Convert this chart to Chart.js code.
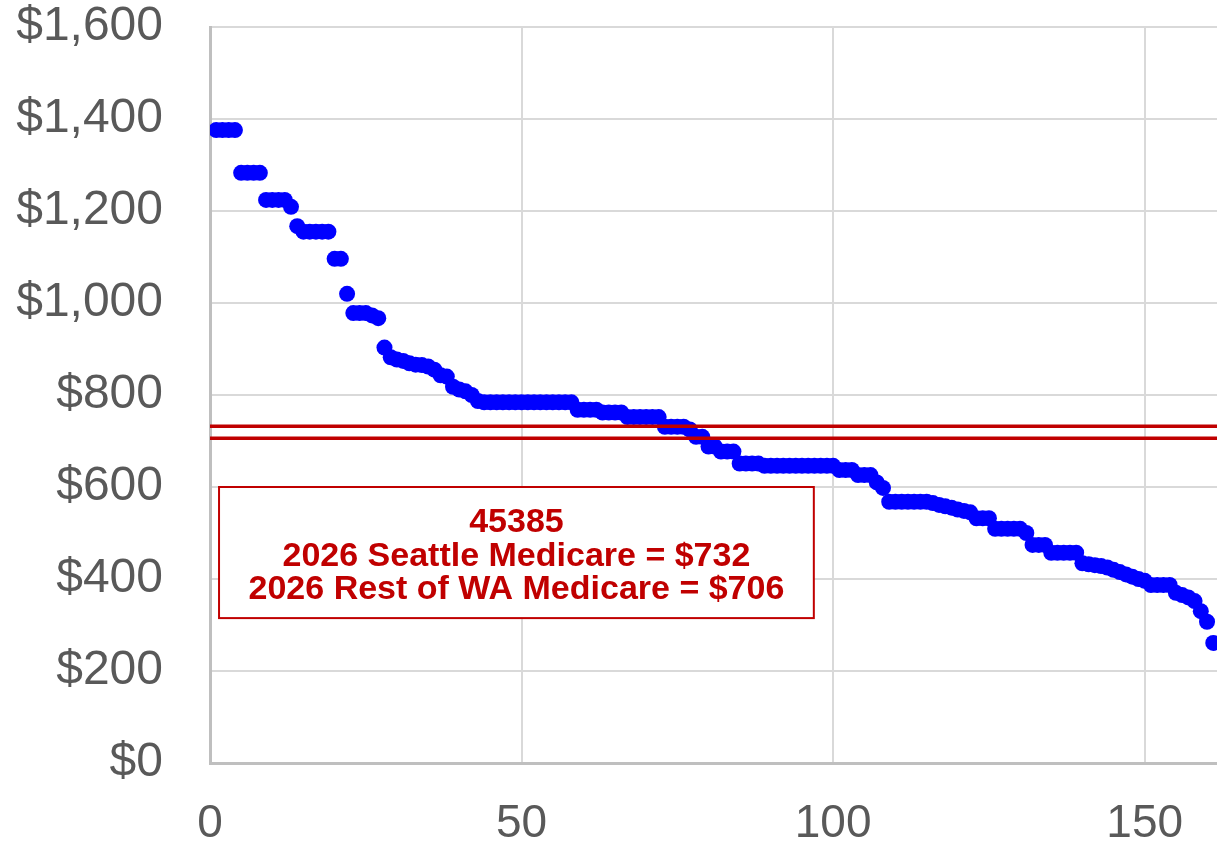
<!DOCTYPE html>
<html>
<head>
<meta charset="utf-8">
<script src="https://cdn.jsdelivr.net/npm/chart.js@4.4.0/dist/chart.umd.min.js"></script>
<style>
    html, body { margin: 0; padding: 0; background: #fff; }
    #wrap { width: 1217px; height: 841px; }
</style>
</head>
<body>
<div id="wrap"><canvas id="priceChart" width="1217" height="841"></canvas></div>
<script>
// Prezzi ordinati dal più alto al più basso, uno per struttura (x = 1, 2, 3 ...)
const PRICES = [
    1376, 1376, 1376, 1376, 1283, 1283, 1283, 1283, 1224, 1224,
    1224, 1224, 1209, 1167, 1155, 1155, 1155, 1155, 1155, 1096,
    1096, 1020, 978, 978, 978, 973, 967, 903, 882, 877,
    874, 869, 866, 865, 862, 855, 843, 840, 818, 812,
    808, 800, 787, 784, 784, 784, 784, 784, 784, 784,
    784, 784, 784, 784, 784, 784, 784, 784, 768, 768,
    768, 768, 762, 762, 762, 762, 752, 752, 752, 752,
    752, 752, 731, 731, 731, 731, 725, 709, 709, 688,
    688, 677, 677, 677, 651, 651, 651, 651, 646, 646,
    646, 646, 646, 646, 646, 646, 646, 646, 646, 646,
    637, 637, 637, 626, 626, 626, 610, 598, 568, 568,
    568, 568, 568, 568, 568, 565, 561, 558, 555, 551,
    548, 545, 532, 532, 532, 509, 509, 509, 509, 509,
    500, 474, 474, 474, 457, 457, 457, 457, 457, 434,
    432, 430, 428, 425, 420, 415, 410, 405, 400, 396,
    387, 387, 387, 387, 370, 365, 360, 352, 330, 307,
    261
];

// Linee di riferimento Medicare
const SEATTLE_MEDICARE = 732;
const REST_OF_WA_MEDICARE = 706;

// Testo del riquadro
const NOTE_LINES = [
    '45385',
    '2026 Seattle Medicare = $732',
    '2026 Rest of WA Medicare = $706'
];

// Assi
const X_MIN = 0;
const X_MAX = 161.6;
const X_STEP = 50;
const Y_MIN = 0;
const Y_MAX = 1600;
const Y_STEP = 200;

const RED = '#C00000';
const BLUE = '#0000FF';
const TICK_COLOR = '#595959';
const FONT = '"Liberation Sans", Arial, sans-serif';

/**
 * Riquadro con il testo, posizionato in coordinate del grafico.
 */
const noteBoxPlugin = {
    id: 'noteBox',
    afterDatasetsDraw(chart) {
        const { ctx, scales: { x, y } } = chart;
        const left = x.getPixelForValue(1.45);
        const right = x.getPixelForValue(96.9);
        const top = y.getPixelForValue(600);
        const bottom = y.getPixelForValue(315);

        ctx.save();
        ctx.fillStyle = '#ffffff';
        ctx.fillRect(left, top, right - left, bottom - top);
        ctx.strokeStyle = RED;
        ctx.lineWidth = 2;
        ctx.strokeRect(left, top, right - left, bottom - top);

        ctx.fillStyle = RED;
        ctx.font = `bold 34px ${FONT}`;
        ctx.textAlign = 'center';
        ctx.textBaseline = 'middle';
        const cx = (left + right) / 2;
        NOTE_LINES.forEach((line, i) => {
            ctx.fillText(line, cx, top + 36 + i * 33.5);
        });
        ctx.restore();
    }
};

function makeRefLine(value) {
    return {
        type: 'scatter',
        showLine: true,
        data: [{ x: X_MIN, y: value }, { x: 200, y: value }],
        borderColor: RED,
        borderWidth: 3.5,
        pointRadius: 0,
        order: 0
    };
}

function createChart() {
    const ctx = document.getElementById('priceChart').getContext('2d');
    const points = PRICES.map((price, i) => ({ x: i + 1, y: price }));

    new Chart(ctx, {
        type: 'scatter',
        data: {
            datasets: [
                makeRefLine(SEATTLE_MEDICARE),
                makeRefLine(REST_OF_WA_MEDICARE),
                {
                    data: points,
                    backgroundColor: BLUE,
                    borderColor: BLUE,
                    borderWidth: 0,
                    pointRadius: 8,
                    order: 1
                }
            ]
        },
        options: {
            responsive: false,
            animation: false,
            layout: {
                autoPadding: false,
                padding: { top: 27, right: 0, bottom: 0, left: 0 }
            },
            plugins: {
                legend: { display: false },
                tooltip: { enabled: false }
            },
            scales: {
                x: {
                    type: 'linear',
                    min: X_MIN,
                    max: X_MAX,
                    afterFit: scale => {
                        scale.height = 78;
                        scale.paddingLeft = 0;
                        scale.paddingRight = 0;
                    },
                    ticks: {
                        stepSize: X_STEP,
                        includeBounds: false,
                        color: TICK_COLOR,
                        font: { family: FONT, size: 46 },
                        padding: 34,
                        maxRotation: 0
                    },
                    grid: { color: '#d9d9d9', lineWidth: 2, drawTicks: false },
                    border: { color: '#bfbfbf', width: 3 }
                },
                y: {
                    min: Y_MIN,
                    max: Y_MAX,
                    afterFit: scale => {
                        scale.width = 210;
                        scale.paddingTop = 0;
                        scale.paddingBottom = 0;
                    },
                    ticks: {
                        stepSize: Y_STEP,
                        color: TICK_COLOR,
                        font: { family: FONT, size: 48 },
                        padding: 47,
                        callback: value => '$' + value.toLocaleString('en-US')
                    },
                    grid: { color: '#d9d9d9', lineWidth: 2, drawTicks: false },
                    border: { color: '#bfbfbf', width: 3 }
                }
            }
        },
        plugins: [noteBoxPlugin]
    });
}

document.addEventListener('DOMContentLoaded', createChart);
</script>
</body>
</html>
